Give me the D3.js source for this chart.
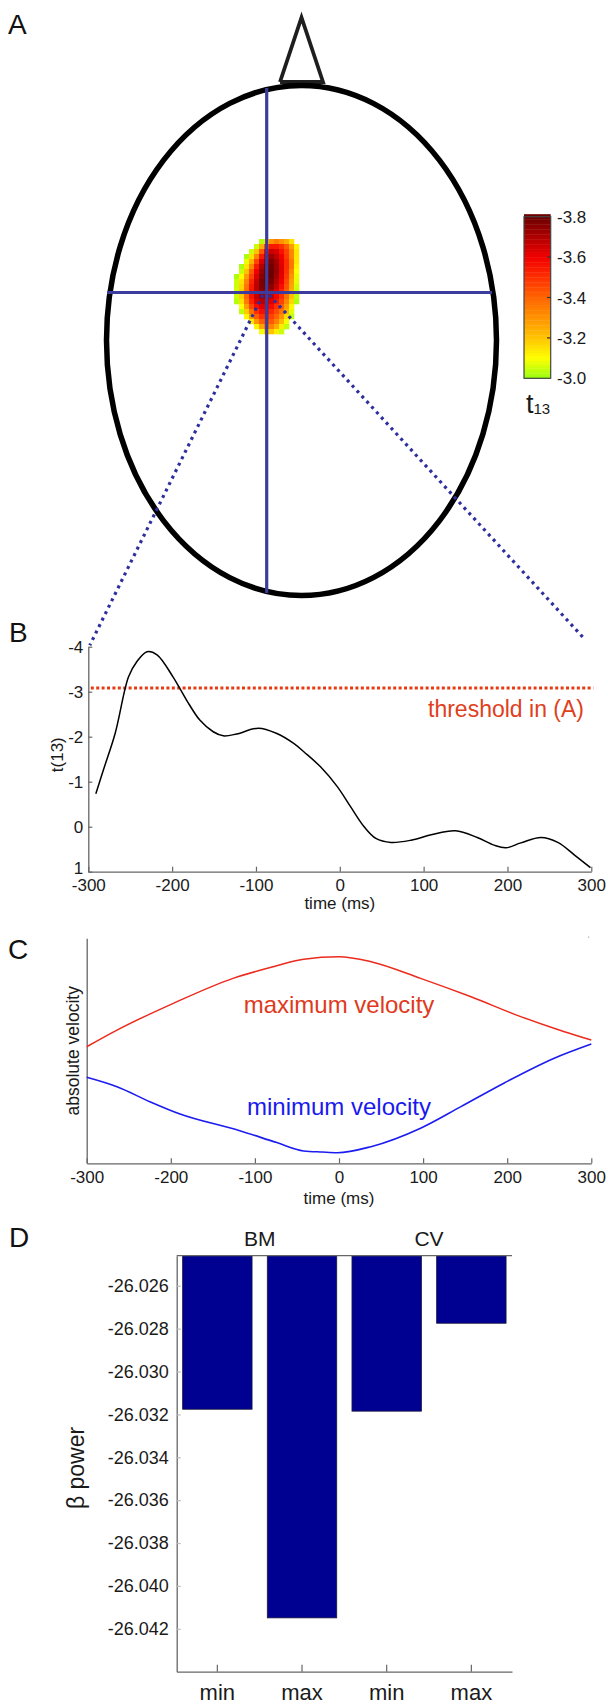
<!DOCTYPE html>
<html>
<head>
<meta charset="utf-8">
<script src="https://cdn.jsdelivr.net/npm/d3@7"></script>
<style>
  body { margin: 0; background: #fff; }
  svg { display: block; }
  text { font-family: "Liberation Sans", Arial, sans-serif; }
</style>
</head>
<body>
<script>
// ---- data ----
// panel A: t-map cluster (t13 values, null = below threshold)
const n = null;
const blobT = [
  [n, n, n, n, n, -3.03, -3.15, -3.3, -3.35, -3.3, -3.25, -3.15, n],
  [n, n, n, n, -3.05, -3.25, -3.45, -3.55, -3.55, -3.5, -3.42, -3.28, -3.12],
  [n, n, n, -3.05, -3.2, -3.42, -3.6, -3.66, -3.64, -3.56, -3.47, -3.33, -3.14],
  [n, n, -3.02, -3.15, -3.33, -3.55, -3.68, -3.73, -3.68, -3.6, -3.48, -3.33, -3.14],
  [n, n, -3.08, -3.24, -3.46, -3.64, -3.74, -3.77, -3.72, -3.62, -3.51, -3.36, -3.14],
  [n, -3.02, -3.14, -3.33, -3.55, -3.7, -3.78, -3.79, -3.73, -3.63, -3.51, -3.36, -3.12],
  [n, -3.05, -3.2, -3.42, -3.6, -3.74, -3.8, -3.8, -3.74, -3.63, -3.5, -3.33, -3.1],
  [-3.02, -3.1, -3.28, -3.47, -3.64, -3.76, -3.81, -3.8, -3.72, -3.62, -3.48, -3.3, -3.08],
  [-3.05, -3.15, -3.33, -3.52, -3.67, -3.78, -3.81, -3.78, -3.7, -3.6, -3.46, -3.28, -3.08],
  [-3.05, -3.17, -3.36, -3.55, -3.68, -3.77, -3.79, -3.75, -3.67, -3.57, -3.44, -3.26, -3.06],
  [-3.06, -3.19, -3.38, -3.56, -3.69, -3.75, -3.75, -3.71, -3.63, -3.53, -3.41, -3.24, -3.05],
  [-3.05, -3.19, -3.39, -3.56, -3.67, -3.73, -3.72, -3.67, -3.59, -3.5, -3.37, -3.21, -3.04],
  [-3.03, -3.15, -3.35, -3.52, -3.63, -3.69, -3.68, -3.63, -3.55, -3.46, -3.33, -3.17, -3.02],
  [n, -3.1, -3.28, -3.46, -3.57, -3.63, -3.63, -3.58, -3.5, -3.41, -3.28, -3.11, n],
  [n, -3.04, -3.19, -3.37, -3.5, -3.57, -3.57, -3.52, -3.45, -3.36, -3.23, -3.07, n],
  [n, n, -3.11, -3.28, -3.41, -3.5, -3.51, -3.47, -3.4, -3.3, -3.16, -3.04, n],
  [n, n, n, -3.14, -3.3, -3.41, -3.45, -3.42, -3.34, -3.22, -3.09, n, n],
  [n, n, n, n, -3.12, -3.27, -3.36, -3.34, -3.25, -3.13, -3.04, n, n],
  [n, n, n, n, n, -3.09, -3.18, -3.2, -3.13, -3.05, n, n, n]
];
const cbarTicks = [-3.8, -3.6, -3.4, -3.2, -3.0];
const cmapStops = [-3.0, -3.1, -3.2, -3.3, -3.4, -3.5, -3.6, -3.7, -3.8];
const cmapColors = ["#96ff12", "#ffff00", "#ffc400", "#ff9400", "#ff6400", "#ff3000", "#f20000", "#b00000", "#6c0000"];

// panel B: t(13) time course
const bTime = [-291, -282, -268, -252, -242, -230, -218, -199, -183, -167, -151, -139, -123, -97, -75, -55, -42, -23, -3, 13, 29, 43, 61, 85, 109, 138, 164, 184, 198, 216, 240, 260, 280, 299];
const bT = [-0.73, -1.26, -2.07, -3.33, -3.67, -3.89, -3.82, -3.33, -2.82, -2.37, -2.11, -2.02, -2.06, -2.19, -2.07, -1.85, -1.65, -1.33, -0.89, -0.44, 0.0, 0.26, 0.35, 0.30, 0.18, 0.09, 0.24, 0.41, 0.47, 0.36, 0.24, 0.35, 0.63, 0.91];
const bYTicks = [-4, -3, -2, -1, 0, 1];
const timeTicks = [-300, -200, -100, 0, 100, 200, 300];
const threshold = -3.08;

// panel C: absolute velocity (arbitrary units)
const cMaxTime = [-300, -264, -197, -126, -78, -42, 0, 38, 97, 157, 216, 268, 300];
const cMaxVel = [5.18, 5.92, 7.11, 8.22, 8.74, 9.07, 9.18, 8.96, 8.22, 7.40, 6.52, 5.85, 5.48];
const cMinTime = [-300, -264, -225, -189, -118, -74, -42, -20, -2, 38, 97, 145, 196, 256, 300];
const cMinVel = [3.82, 3.40, 2.74, 2.19, 1.45, 0.92, 0.55, 0.50, 0.47, 0.74, 1.56, 2.52, 3.56, 4.67, 5.30];

// panel D: beta power
const dGroups = ["BM", "CV"];
const dConds = ["min", "max", "min", "max"];
const dValues = [-26.03176, -26.04149, -26.03185, -26.02775];
const dTicks = [-26.026, -26.028, -26.030, -26.032, -26.034, -26.036, -26.038, -26.040, -26.042];

// ---- drawing ----
const svg = d3.select("body").append("svg")
  .attr("width", 608).attr("height", 1704);
svg.append("rect").attr("width", 608).attr("height", 1704).attr("fill", "#fff");

const axisColor = "#666";
const textColor = "#1a1a1a";

function panelLabel(txt, x, y) {
  svg.append("text").attr("x", x).attr("y", y)
    .attr("font-size", 28).attr("fill", "#111").text(txt);
}

function styleAxis(g, size) {
  g.select(".domain").attr("stroke", axisColor).attr("stroke-width", 1.3);
  g.selectAll(".tick line").attr("stroke", axisColor).attr("stroke-width", 1.2);
  g.selectAll(".tick text").attr("fill", textColor)
    .attr("font-size", size).attr("font-family", "Liberation Sans, Arial, sans-serif");
}

// ---------- Panel A ----------
panelLabel("A", 8, 34);

const color = d3.scaleLinear().domain(cmapStops).range(cmapColors).clamp(true);

// nose
svg.append("path")
  .attr("d", d3.line()([[280, 82], [301.5, 17.5], [323, 82], [280, 82]]))
  .attr("fill", "#fff").attr("stroke", "#1e1e1e").attr("stroke-width", 3.8)
  .attr("stroke-linejoin", "miter");

// head
svg.append("ellipse")
  .attr("cx", 301.5).attr("cy", 340.5).attr("rx", 195).attr("ry", 255)
  .attr("fill", "#fff").attr("stroke", "#000").attr("stroke-width", 5.5);

// t-map cluster
const cell = 5;
const bx = d3.scaleLinear().domain([0, blobT[0].length]).range([234, 234 + cell * blobT[0].length]);
const by = d3.scaleLinear().domain([0, blobT.length]).range([239, 239 + cell * blobT.length]);
const cells = [];
blobT.forEach((row, r) => row.forEach((v, c) => { if (v !== null) cells.push({ r, c, v }); }));
svg.append("g").selectAll("rect").data(cells).join("rect")
  .attr("x", d => bx(d.c)).attr("y", d => by(d.r))
  .attr("width", cell + 0.3).attr("height", cell + 0.3)
  .attr("fill", d => color(d.v));

// crosshair
const crossX = 266.7, crossY = 292.5;
svg.append("line").attr("x1", 107).attr("x2", 492).attr("y1", crossY).attr("y2", crossY)
  .attr("stroke", "#3b3c9c").attr("stroke-width", 3.2);
svg.append("line").attr("x1", crossX).attr("x2", crossX).attr("y1", 88).attr("y2", 593)
  .attr("stroke", "#3b3c9c").attr("stroke-width", 3.2);

// colorbar
const cbY = d3.scaleLinear().domain([-3.0, -3.8]).range([378.3, 216.7]);
const step = 0.0125;
const cbSteps = d3.range(-3.0, -3.8 - 1e-9, -step);
svg.append("g").selectAll("rect").data(cbSteps).join("rect")
  .attr("x", 524).attr("width", 26.7)
  .attr("y", d => cbY(d - step)).attr("height", cbY(-3.0) - cbY(-3.0 - step) + 0.4)
  .attr("fill", d => color(d - step / 2));
svg.append("rect").attr("x", 524).attr("y", 216.7).attr("width", 26.7).attr("height", 161.6)
  .attr("fill", "none").attr("stroke", "#444").attr("stroke-width", 1.2);
svg.append("g").selectAll("line").data(cbarTicks.slice(1, -1)).join("line")
  .attr("x1", 547).attr("x2", 550.7).attr("y1", d => cbY(d)).attr("y2", d => cbY(d))
  .attr("stroke", "#333").attr("stroke-width", 1.2);
svg.append("g").selectAll("text").data(cbarTicks).join("text")
  .attr("x", 557).attr("y", d => cbY(d)).attr("dy", "0.36em")
  .attr("font-size", 17).attr("fill", textColor)
  .text(d => d.toFixed(1));
const tLab = svg.append("text").attr("x", 526).attr("y", 413).attr("fill", textColor);
tLab.append("tspan").attr("font-size", 27).text("t");
tLab.append("tspan").attr("font-size", 15).attr("dy", 1).text("13");

// ---------- Panel B ----------
panelLabel("B", 9, 642);
const xB = d3.scaleLinear().domain([-300, 300]).range([88.3, 591.3]);
const yB = d3.scaleLinear().domain([1, -4]).range([871.7, 646.7]);

// dotted zoom lines from cluster to panel B
const dotted = [
  [[crossX - 4, crossY + 2.5], [xB(-300) + 1.5, yB(-4) - 1.5]],
  [[crossX + 2.6, crossY + 2.5], [xB(290), yB(-4.21)]]
];
svg.append("g").selectAll("line").data(dotted).join("line")
  .attr("x1", d => d[0][0]).attr("y1", d => d[0][1])
  .attr("x2", d => d[1][0]).attr("y2", d => d[1][1])
  .attr("stroke", "#2e2f9e").attr("stroke-width", 3.2)
  .attr("stroke-dasharray", "3,4.2");

const gBx = svg.append("g").attr("transform", `translate(0,${yB(1)})`)
  .call(d3.axisBottom(xB).tickValues(timeTicks).tickFormat(d => String(d))
    .tickSize(-5).tickSizeOuter(0).tickPadding(7));
styleAxis(gBx, 17);
const gBy = svg.append("g").attr("transform", `translate(${xB(-300)},0)`)
  .call(d3.axisLeft(yB).tickValues(bYTicks).tickFormat(d => String(d))
    .tickSize(-4).tickSizeOuter(0).tickPadding(5));
styleAxis(gBy, 17);
gBy.selectAll(".tick text").filter(d => d === 1).attr("dy", "0.12em");

svg.append("text").attr("x", xB(0)).attr("y", 909).attr("text-anchor", "middle")
  .attr("font-size", 17).attr("fill", textColor).text("time (ms)");
svg.append("text").attr("transform", `translate(63,${yB(-1.6)}) rotate(-90)`)
  .attr("text-anchor", "middle").attr("font-size", 17).attr("fill", textColor).text("t(13)");

svg.append("line").attr("x1", xB(-297)).attr("x2", xB(300) + 2)
  .attr("y1", yB(threshold)).attr("y2", yB(threshold))
  .attr("stroke", "#e83a12").attr("stroke-width", 3).attr("stroke-dasharray", "3,2.4");
svg.append("text").attr("x", 584).attr("y", 717).attr("text-anchor", "end")
  .attr("font-size", 23).attr("fill", "#e0401c").text("threshold in (A)");

svg.append("path")
  .datum(bTime.map((t, i) => [t, bT[i]]))
  .attr("d", d3.line().x(d => xB(d[0])).y(d => yB(d[1])).curve(d3.curveCatmullRom))
  .attr("fill", "none").attr("stroke", "#000").attr("stroke-width", 1.5);

// ---------- Panel C ----------
panelLabel("C", 8, 959);
const xC = d3.scaleLinear().domain([-300, 300]).range([86.7, 591.3]);
const yC = d3.scaleLinear().domain([0, 10]).range([1163.3, 938.3]);

const gCx = svg.append("g").attr("transform", `translate(0,${yC(0)})`)
  .call(d3.axisBottom(xC).tickValues(timeTicks).tickFormat(d => String(d))
    .tickSize(-5).tickSizeOuter(0).tickPadding(8));
styleAxis(gCx, 17);
const gCy = svg.append("g").attr("transform", `translate(${xC(-300)},0)`)
  .call(d3.axisLeft(yC).tickValues([]).tickSizeOuter(0));
styleAxis(gCy, 17);
svg.append("rect").attr("x", 588).attr("y", 936.5).attr("width", 1.2).attr("height", 1.2).attr("fill", "#aaa");

svg.append("text").attr("x", xC(0)).attr("y", 1204).attr("text-anchor", "middle")
  .attr("font-size", 17).attr("fill", textColor).text("time (ms)");
svg.append("text").attr("transform", `translate(79,${yC(5)}) rotate(-90)`)
  .attr("text-anchor", "middle").attr("font-size", 17.5).attr("fill", textColor).text("absolute velocity");

const lineC = d3.line().x(d => xC(d[0])).y(d => yC(d[1])).curve(d3.curveMonotoneX);
svg.append("path").datum(cMaxTime.map((t, i) => [t, cMaxVel[i]]))
  .attr("d", lineC).attr("fill", "none").attr("stroke", "#ec2a1e").attr("stroke-width", 1.5);
svg.append("path").datum(cMinTime.map((t, i) => [t, cMinVel[i]]))
  .attr("d", lineC).attr("fill", "none").attr("stroke", "#1c1cf0").attr("stroke-width", 1.6);

svg.append("text").attr("x", xC(0)).attr("y", 1013).attr("text-anchor", "middle")
  .attr("font-size", 24).attr("fill", "#e03a1c").text("maximum velocity");
svg.append("text").attr("x", xC(0)).attr("y", 1115).attr("text-anchor", "middle")
  .attr("font-size", 24).attr("fill", "#1a1aee").text("minimum velocity");

// ---------- Panel D ----------
panelLabel("D", 9, 1247);
const keys = dConds.map((c, i) => dGroups[Math.floor(i / 2)] + "-" + c + i);
const xD = d3.scaleBand().domain(keys).range([176.7, 512]).paddingInner(0.18).paddingOuter(0.07);
const yD = d3.scaleLinear().domain([-26.0440, -26.0246]).range([1671.7, 1255.7]);

svg.append("g").selectAll("rect").data(dValues).join("rect")
  .attr("x", (d, i) => xD(keys[i])).attr("width", xD.bandwidth())
  .attr("y", yD(-26.0246)).attr("height", d => yD(d) - yD(-26.0246))
  .attr("fill", "#000091").attr("stroke", "#1a1a3a").attr("stroke-width", 0.8);

svg.append("line").attr("x1", 176.7).attr("x2", 512).attr("y1", yD(-26.0246)).attr("y2", yD(-26.0246))
  .attr("stroke", axisColor).attr("stroke-width", 1.3);

const gDy = svg.append("g").attr("transform", "translate(176.7,0)")
  .call(d3.axisLeft(yD).tickValues(dTicks).tickFormat(d => d.toFixed(3))
    .tickSize(-4).tickSizeOuter(0).tickPadding(8));
styleAxis(gDy, 18);
gDy.selectAll(".tick line").attr("stroke", "#bbb");

const gDx = svg.append("g").attr("transform", `translate(0,${yD(-26.0440)})`)
  .call(d3.axisBottom(xD).tickFormat((d, i) => dConds[i]).tickSize(-7).tickSizeOuter(0));
styleAxis(gDx, 22);
gDx.selectAll(".tick text").attr("y", 28).attr("dy", 0);

svg.append("g").selectAll("text").data(dGroups).join("text")
  .attr("x", (d, i) => (xD(keys[2 * i]) + xD(keys[2 * i + 1]) + xD.bandwidth()) / 2)
  .attr("y", 1246).attr("text-anchor", "middle")
  .attr("font-size", 21).attr("fill", textColor).text(d => d);

svg.append("text").attr("transform", `translate(84,${yD(-26.0345)}) rotate(-90)`)
  .attr("text-anchor", "middle").attr("font-size", 23).attr("fill", textColor).text("β power");
</script>
</body>
</html>
